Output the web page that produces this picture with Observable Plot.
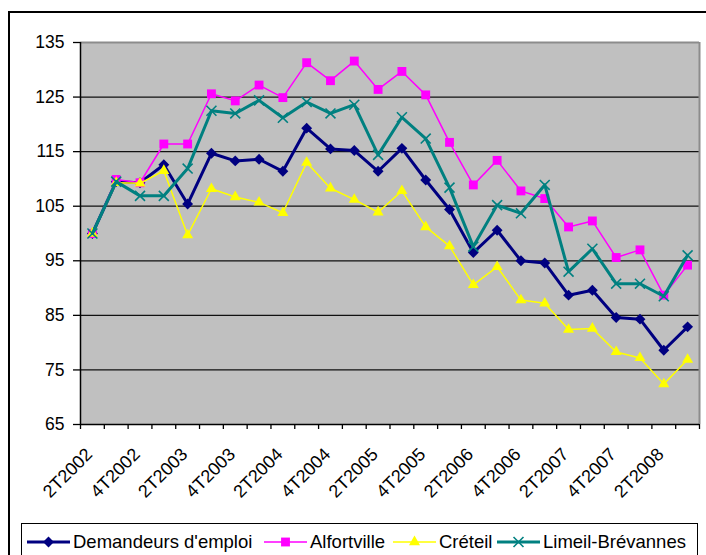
<!DOCTYPE html>
<html>
<head>
<meta charset="utf-8">
<script src="https://cdn.jsdelivr.net/npm/d3@7"></script>
<script src="https://cdn.jsdelivr.net/npm/@observablehq/plot@0.6"></script>
<style>
  body { margin: 0; background: #fff; overflow: hidden; }
  #wrap { position: relative; width: 706px; height: 555px; overflow: hidden; font-family: "Liberation Sans", Arial, sans-serif; }
  #frame { position: absolute; left: 8px; top: 11px; width: 740px; height: 600px; border-left: 2px solid #000; border-top: 2px solid #000; box-sizing: border-box; }
  #chart { position: absolute; left: 0; top: 0; }
  #legend { position: absolute; left: 21px; top: 523px; width: 677px; height: 50px; border: 1px solid #000; background: #fff; box-sizing: border-box; }
  .item { position: absolute; top: 0; display: flex; align-items: flex-start; }
  .item svg { display: block; margin-top: 10px; }
  .item span { font-size: 18.5px; line-height: 20px; margin-top: 8px; margin-left: 3px; color: #000; white-space: nowrap; }
</style>
</head>
<body>
<div id="wrap">
  <div id="frame"></div>
  <div id="chart"></div>
  <div id="legend"></div>
</div>
<script>
const quarters = ["2T2002","3T2002","4T2002","1T2003","2T2003","3T2003","4T2003","1T2004","2T2004","3T2004","4T2004","1T2005","2T2005","3T2005","4T2005","1T2006","2T2006","3T2006","4T2006","1T2007","2T2007","3T2007","4T2007","1T2008","2T2008","3T2008"];
const yTicks = [65, 75, 85, 95, 105, 115, 125, 135];

const demandeurs = [100, 109.5, 109.3, 112.6, 105.4, 114.7, 113.3, 113.6, 111.4, 119.3, 115.5, 115.2, 111.4, 115.6, 109.8, 104.4, 96.5, 100.6, 95.0, 94.6, 88.7, 89.6, 84.6, 84.3, 78.6, 82.9];
const alfortville = [100, 109.9, 109.3, 116.4, 116.4, 125.6, 124.3, 127.2, 124.9, 131.3, 128.0, 131.6, 126.4, 129.7, 125.4, 116.7, 108.9, 113.4, 107.8, 106.4, 101.2, 102.3, 95.6, 97.0, 88.7, 94.2];
const creteil = [100, 109.3, 109.2, 111.5, 99.7, 108.2, 106.7, 105.7, 103.8, 113.0, 108.3, 106.2, 103.9, 107.8, 101.2, 97.7, 90.6, 93.9, 87.8, 87.2, 82.4, 82.6, 78.3, 77.2, 72.4, 76.9];
const limeil = [100, 109.5, 106.9, 106.9, 111.9, 122.5, 122.0, 124.4, 121.2, 124.1, 122.0, 123.6, 114.4, 121.3, 117.4, 108.4, 97.6, 105.2, 103.7, 108.9, 93.0, 97.2, 90.8, 90.8, 88.5, 96.0];

const seriesNames = ["Demandeurs d'emploi", "Alfortville", "Créteil", "Limeil-Brévannes"];
const seriesValues = [demandeurs, alfortville, creteil, limeil];
const seriesColors = ["#000080", "#FF00FF", "#FFFF00", "#008080"];
const seriesSymbols = ["diamond2", "square", "triangle", "times"];
const seriesWidths = [3, 1.5, 1.5, 3];
const seriesR = [4.9, 5, 4.1, 4.6];

const rows = seriesNames.map((name, s) => seriesValues[s].map((v, i) => ({series: name, i, q: quarters[i], v})));

const labelIdx = quarters.map((q, i) => i).filter(i => i % 2 === 0);

const marks = [
  Plot.frame({fill: "#c0c0c0", stroke: "none"}),
  Plot.ruleY(yTicks.filter(v => v > 65 && v < 135), {stroke: "#111", strokeWidth: 1.3}),
  Plot.ruleY([135], {stroke: "#8c8c8c", strokeWidth: 2}),
  Plot.ruleX([quarters.length], {stroke: "#8c8c8c", strokeWidth: 2}),
  Plot.ruleX([0], {stroke: "#000", strokeWidth: 1.5}),
  Plot.ruleY([65], {stroke: "#000", strokeWidth: 1.5}),
  Plot.axisY({ticks: yTicks, tickSize: 7, tickPadding: 9, fontSize: 17.5, tickFormat: d => String(d), label: null, stroke: "#000", strokeWidth: 1.3}),
  Plot.axisX({ticks: d3.range(quarters.length + 1), tickSize: 5, tickFormat: () => "", label: null, stroke: "#000", strokeWidth: 1.3}),
  Plot.text(labelIdx, {x: i => i + 0.5, text: i => quarters[i], frameAnchor: "bottom", rotate: -45, textAnchor: "end", lineAnchor: "bottom", dx: 1, dy: 31, fontSize: 18, fill: "#000"})
];

seriesNames.forEach((name, s) => {
  const data = rows[s];
  marks.push(Plot.line(data, {x: d => d.i + 0.5, y: "v", stroke: seriesColors[s], strokeWidth: seriesWidths[s]}));
  const sym = seriesSymbols[s];
  if (sym === "times") {
    marks.push(Plot.dot(data, {x: d => d.i + 0.5, y: "v", symbol: sym, r: seriesR[s], stroke: seriesColors[s], strokeWidth: 1.6, fill: "none"}));
  } else {
    marks.push(Plot.dot(data, {x: d => d.i + 0.5, y: "v", symbol: sym, r: seriesR[s], fill: seriesColors[s], stroke: "none"}));
  }
});

const chart = Plot.plot({
  width: 706,
  height: 515,
  marginLeft: 80,
  marginRight: 7,
  marginTop: 42,
  marginBottom: 91,
  x: {domain: [0, quarters.length], axis: null},
  y: {domain: [65, 135], axis: null},
  style: {fontFamily: "'Liberation Sans', Arial, sans-serif", background: "transparent", color: "#000", overflow: "visible"},
  marks
});
document.getElementById("chart").appendChild(chart);

// Legend
const legend = d3.select("#legend");
const itemLeft = [5, 242, 371, 475];
const symMap = {diamond2: d3.symbolDiamond2, square: d3.symbolSquare, triangle: d3.symbolTriangle, times: d3.symbolTimes};
seriesNames.forEach((name, s) => {
  const it = legend.append("div").attr("class", "item").style("left", itemLeft[s] + "px");
  const svg = it.append("svg").attr("width", 43).attr("height", 16);
  svg.append("line").attr("x1", 0).attr("x2", 43).attr("y1", 8).attr("y2", 8)
    .attr("stroke", seriesColors[s]).attr("stroke-width", seriesWidths[s]);
  const size = Math.PI * seriesR[s] * seriesR[s];
  const p = svg.append("path").attr("transform", "translate(21.5,8)")
    .attr("d", d3.symbol(symMap[seriesSymbols[s]], size)());
  if (seriesSymbols[s] === "times") p.attr("fill", "none").attr("stroke", seriesColors[s]).attr("stroke-width", 1.6);
  else p.attr("fill", seriesColors[s]);
  it.append("span").text(name);
});
</script>
</body>
</html>
